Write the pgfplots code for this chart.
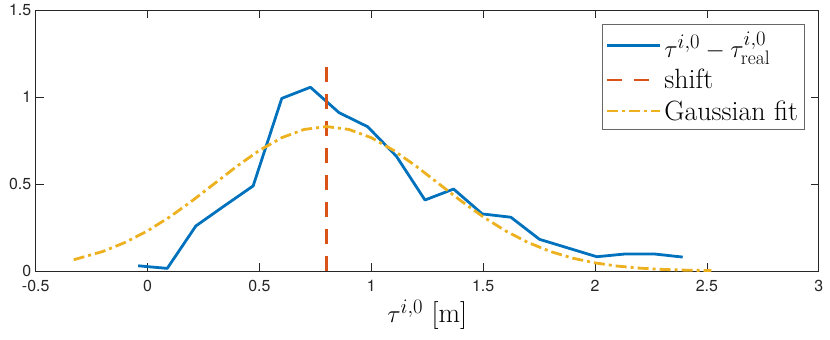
\documentclass[border=0pt]{standalone}
\usepackage{fontspec}
\newfontfamily\helv{TeX Gyre Heros}
\usepackage{pgfplots}
\pgfplotsset{compat=1.18}
\definecolor{mblue}{rgb}{0,0.447,0.741}
\definecolor{mred}{rgb}{0.85,0.325,0.098}
\definecolor{myellow}{rgb}{0.929,0.694,0.125}
\definecolor{maxis}{rgb}{0.15,0.15,0.15}
\begin{document}
\begin{tikzpicture}
\begin{axis}[
  scale only axis,
  width=783bp, height=261bp,
  xmin=-0.5, xmax=3, ymin=0, ymax=1.5,
  xtick={-0.5,0,0.5,1,1.5,2,2.5,3},
  xticklabels={-0.5,0,0.5,1,1.5,2,2.5,3},
  ytick={0,0.5,1,1.5},
  yticklabels={0,0.5,1,1.5},
  tick align=inside,
  major tick length=8bp,
  axis line style={maxis,line width=0.6pt},
  every tick/.style={maxis,line width=0.6pt},
  tick label style={font=\helv\fontsize{16}{16}\selectfont,text=maxis},
  xticklabel style={yshift=-6bp},
  yticklabel style={xshift=-1bp},
  xlabel={$\tau^{i,0}$ [m]},
  xlabel style={font=\fontsize{28}{28}\selectfont,yshift=-1bp},
  legend style={at={(1,1)},anchor=north east,xshift=-14bp,yshift=-14bp,
    draw=maxis!70,line width=0.6pt,font=\fontsize{28}{34}\selectfont,
    inner xsep=4bp,inner ysep=5bp,row sep=5bp,
    nodes={inner sep=2.5bp}},
  legend cell align=left,
  legend image code/.code={\draw[#1] (0bp,0bp) -- (53bp,0bp);},
  clip=false,
]
\addplot[mblue,line width=2.8pt,line join=round] coordinates {
  (-0.042,0.030) (0.088,0.015) (0.216,0.259) (0.344,0.375) (0.472,0.489)
  (0.600,0.992) (0.728,1.056) (0.856,0.910) (0.984,0.829) (1.112,0.660)
  (1.240,0.408) (1.368,0.471) (1.496,0.328) (1.624,0.309) (1.752,0.182)
  (1.880,0.132) (2.008,0.082) (2.136,0.098) (2.264,0.098) (2.392,0.080)
};
\addlegendentry{$\tau^{i,0}-\tau^{i,0}_{\mathrm{real}}$}
\addplot[mred,line width=2.8pt,dash pattern=on 15bp off 12bp] coordinates {
  (0.8,0) (0.8,1.2)
};
\addlegendentry{shift}
\addplot[myellow,line width=2.8pt,dash pattern=on 11bp off 4bp on 3bp off 4bp] coordinates {
  (-0.33,0.0646) (-0.2,0.1123) (-0.1,0.1643) (0,0.2307) (0.1,0.3115)
  (0.2,0.4040) (0.3,0.5034) (0.4,0.6027) (0.5,0.6933) (0.6,0.7662)
  (0.7,0.8136) (0.8,0.8300) (0.9,0.8136) (1.0,0.7662) (1.1,0.6933)
  (1.2,0.6027) (1.3,0.5034) (1.4,0.4040) (1.5,0.3115) (1.6,0.2307)
  (1.7,0.1643) (1.8,0.1123) (1.9,0.0738) (2.0,0.0466) (2.1,0.0282)
  (2.2,0.0164) (2.3,0.0092) (2.4,0.0050) (2.52,0.0022)
};
\addlegendentry{Gaussian fit}
\end{axis}
\pgfresetboundingbox
\path (current axis.south west) ++(-35.7bp,-69bp) rectangle ++(830bp,340bp);
\end{tikzpicture}
\end{document}
